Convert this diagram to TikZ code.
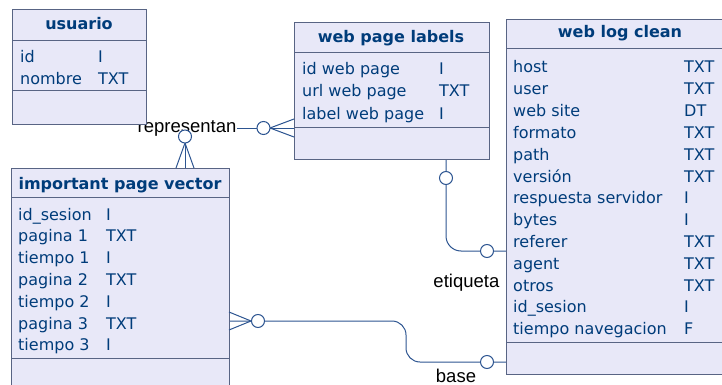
\documentclass[tikz,border=0pt]{standalone}
\usepackage{fontspec}
\setmainfont{DejaVu Sans}
\newfontfamily\lblfont{Liberation Sans}
\definecolor{entfill}{RGB}{232,232,248}
\definecolor{entborder}{RGB}{88,100,132}
\definecolor{enttext}{RGB}{0,60,122}
\definecolor{connc}{RGB}{45,85,145}
\begin{document}
\begin{tikzpicture}[x=1pt,y=-1pt,
  ent/.style={draw=entborder, fill=entfill, line width=1pt, anchor=north west, inner sep=0},
  sepline/.style={draw=entborder, line width=1pt},
  ttl/.style={font=\fontsize{16}{19}\selectfont\bfseries, text=enttext, anchor=base, inner sep=0},
  attr/.style={font=\fontsize{16}{19}\selectfont, text=enttext, anchor=base west, inner sep=0},
  conn/.style={draw=connc, line width=1pt},
  ring/.style={circle, draw=connc, fill=white, line width=1pt, minimum size=13pt, inner sep=0},
  rel/.style={font=\lblfont\fontsize{18.5}{20}\selectfont, inner sep=0.5pt, fill=white}
]
\useasboundingbox (0,0) rectangle (722,385);
\clip (0,0) rectangle (722,385);

% ---------- connector lines (under everything) ----------
\coordinate (ipvtop) at (185,168);
\coordinate (wplleft) at (294,128);
\coordinate (wplbot) at (446,159);
\coordinate (wlcA) at (506,251);
\coordinate (ipvright) at (229,321);
\coordinate (wlcB) at (506,362);

\draw[conn] (ipvtop) -- (185,128) -- (wplleft);
\draw[conn, rounded corners=15pt] (wplbot) -- (446,251) -- (wlcA);
\draw[conn, rounded corners=14pt] (ipvright) -- (406,321) -- (406,362) -- (wlcB);

% ---------- relationship labels ----------
\node[rel, anchor=base west] (representan) at (137,132) {representan};
\node[rel, anchor=base east, fill=none] (etiqueta) at (500,287) {etiqueta};
\node[rel, anchor=base, fill=none] (base) at (456,382) {base};

% ---------- entities ----------
% usuario
\node[ent, minimum width=134pt, minimum height=115pt] (usr) at (12,9) {};
\draw[sepline] (usr.west |- 0,41) -- (usr.east |- 0,41);
\draw[sepline] (usr.west |- 0,91) -- (usr.east |- 0,91);
\node[ttl] (usrT) at (79,30) {usuario};
\node[attr] (usr1a) at (20,63) {id};      \node[attr] (usr1b) at (98,63) {I};
\node[attr] (usr2a) at (20,85) {nombre};  \node[attr] (usr2b) at (98,85) {TXT};

% web page labels
\node[ent, minimum width=195pt, minimum height=137pt] (wpl) at (294,22) {};
\draw[sepline] (wpl.west |- 0,53) -- (wpl.east |- 0,53);
\draw[sepline] (wpl.west |- 0,127) -- (wpl.east |- 0,127);
\node[ttl] (wplT) at (391,43) {web page labels};
\foreach \t/\d [count=\i from 0] in {id web page/I, url web page/TXT, label web page/I}{
  \node[attr] (wpl\i a) at (302,75+\i*22) {\t};
  \node[attr] (wpl\i b) at (439,75+\i*22) {\d};
}

% web log clean
\node[ent, minimum width=228pt, minimum height=355pt] (wlc) at (506,19) {};
\draw[sepline] (wlc.west |- 0,49) -- (wlc.east |- 0,49);
\draw[sepline] (wlc.west |- 0,342) -- (wlc.east |- 0,342);
\node[ttl] (wlcT) at (620,38) {web log clean};
\foreach \t/\d [count=\i from 0] in {host/TXT, user/TXT, web site/DT, formato/TXT, path/TXT, versión/TXT, respuesta servidor/I, bytes/I, referer/TXT, agent/TXT, otros/TXT, id\_sesion/I, tiempo navegacion/F}{
  \node[attr] (wlc\i a) at (513,73+\i*21.8) {\t};
  \node[attr] (wlc\i b) at (684,73+\i*21.8) {\d};
}

% important page vector
\node[ent, minimum width=218pt, minimum height=230pt] (ipv) at (11,168) {};
\draw[sepline] (ipv.west |- 0,197) -- (ipv.east |- 0,197);
\draw[sepline] (ipv.west |- 0,358) -- (ipv.east |- 0,358);
\node[ttl] (ipvT) at (120,189) {important page vector};
\foreach \t/\d [count=\i from 0] in {id\_sesion/I, pagina 1/TXT, tiempo 1/I, pagina 2/TXT, tiempo 2/I, pagina 3/TXT, tiempo 3/I}{
  \node[attr] (ipv\i a) at (18,220+\i*21.8) {\t};
  \node[attr] (ipv\i b) at (106,220+\i*21.8) {\d};
}

% ---------- cardinality marks ----------
% crow's foot on important page vector (top)
\draw[conn] (185,143) -- (176,168) (185,143) -- (194,168);
\node[ring] (r1) at (185,136.5) {};
% crow's foot on web page labels (left)
\draw[conn] (270,128) -- (294,119) (270,128) -- (294,137);
\node[ring] (r2) at (263.5,128) {};
% etiqueta rings
\node[ring] (r3) at (446,178) {};
\node[ring] (r4) at (487,251) {};
% crow's foot on important page vector (right)
\draw[conn] (251,321) -- (229,312) (251,321) -- (229,330);
\node[ring] (r5) at (258,321) {};
\node[ring] (r6) at (487,362) {};
\end{tikzpicture}
\end{document}
